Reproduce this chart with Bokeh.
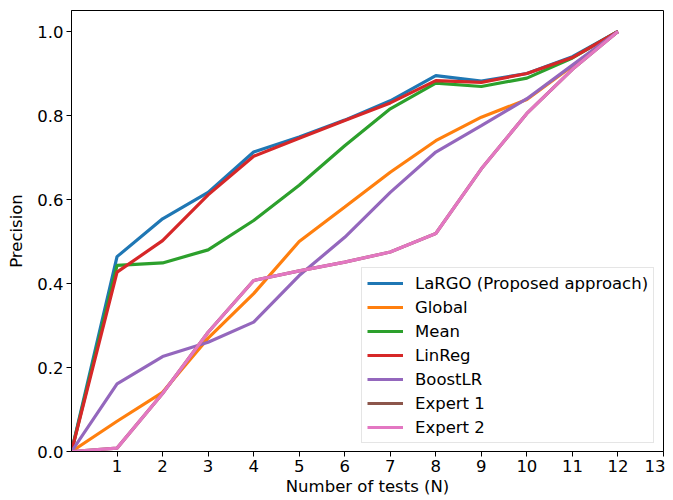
from bokeh.plotting import figure
from bokeh.models import Range1d, Legend, LegendItem, FixedTicker, PrintfTickFormatter
from bokeh.embed import file_html
from bokeh.resources import INLINE

x = list(range(0, 13))
largo = [0.0, 0.464, 0.554, 0.617, 0.713, 0.749, 0.789, 0.835, 0.895, 0.882, 0.900, 0.940, 1.0]
global_ = [0.0, 0.072, 0.141, 0.270, 0.376, 0.500, 0.582, 0.665, 0.740, 0.796, 0.838, 0.918, 1.0]
mean = [0.0, 0.443, 0.449, 0.480, 0.550, 0.634, 0.728, 0.816, 0.877, 0.869, 0.889, 0.937, 1.0]
linreg = [0.0, 0.427, 0.502, 0.611, 0.703, 0.746, 0.788, 0.830, 0.883, 0.879, 0.900, 0.938, 1.0]
boostlr = [0.0, 0.161, 0.226, 0.260, 0.308, 0.419, 0.510, 0.617, 0.713, 0.776, 0.840, 0.920, 1.0]
expert1 = [0.0, 0.008, 0.138, 0.284, 0.407, 0.430, 0.451, 0.475, 0.519, 0.673, 0.805, 0.910, 1.0]
expert2 = [0.0, 0.008, 0.138, 0.284, 0.407, 0.430, 0.451, 0.475, 0.519, 0.673, 0.805, 0.910, 1.0]

names = ["LaRGO (Proposed approach)", "Global", "Mean", "LinReg", "BoostLR", "Expert 1", "Expert 2"]
series = [largo, global_, mean, linreg, boostlr, expert1, expert2]
colors = ["#1f77b4", "#ff7f0e", "#2ca02c", "#d62728", "#9467bd", "#8c564b", "#e377c2"]
x_ticks = list(range(1, 14))
y_ticks = [0.0, 0.2, 0.4, 0.6, 0.8, 1.0]

FONT = "DejaVu Sans"
FS = "16.5px"

p = figure(width=665, height=498, output_backend="svg", toolbar_location=None,
           x_range=Range1d(0, 13), y_range=Range1d(0, 1.05),
           min_border_left=71, min_border_right=2, min_border_top=10, min_border_bottom=47)

items = []
for name, ys, c in zip(names, series, colors):
    r = p.line(x, ys, line_color=c, line_width=3.2)
    items.append(LegendItem(label=name, renderers=[r]))

p.xgrid.visible = False
p.ygrid.visible = False
p.outline_line_color = "black"
p.outline_line_width = 1
p.outline_line_alpha = 1

for ax in (p.xaxis[0], p.yaxis[0]):
    ax.axis_line_color = "black"
    ax.major_tick_line_color = "black"
    ax.major_tick_out = 5
    ax.major_tick_in = 0
    ax.minor_tick_line_color = None
    ax.major_label_text_font = FONT
    ax.major_label_text_font_size = FS
    ax.major_label_text_color = "black"
    ax.axis_label_text_font = FONT
    ax.axis_label_text_font_size = FS
    ax.axis_label_text_font_style = "normal"
    ax.axis_label_text_color = "black"

p.xaxis.ticker = FixedTicker(ticks=x_ticks)
p.yaxis.ticker = FixedTicker(ticks=y_ticks)
p.yaxis.formatter = PrintfTickFormatter(format="%.1f")
p.xaxis.axis_label = "Number of tests (N)"
p.yaxis.axis_label = "Precision"
p.xaxis.major_label_standoff = 3
p.yaxis.major_label_standoff = 3
p.xaxis.axis_label_standoff = 2
p.yaxis.axis_label_standoff = 8

legend = Legend(items=items, location=(290, 8))
legend.label_text_font = FONT
legend.label_text_font_size = FS
legend.label_text_color = "black"
legend.glyph_width = 36
legend.glyph_height = 20
legend.label_height = 20
legend.spacing = 4
legend.padding = 5
legend.margin = 0
legend.label_standoff = 12
legend.border_line_color = "#cccccc"
legend.border_line_width = 1
legend.background_fill_color = "white"
legend.background_fill_alpha = 0.8
p.add_layout(legend, "center")

open("out.html", "w").write(file_html(p, INLINE))
